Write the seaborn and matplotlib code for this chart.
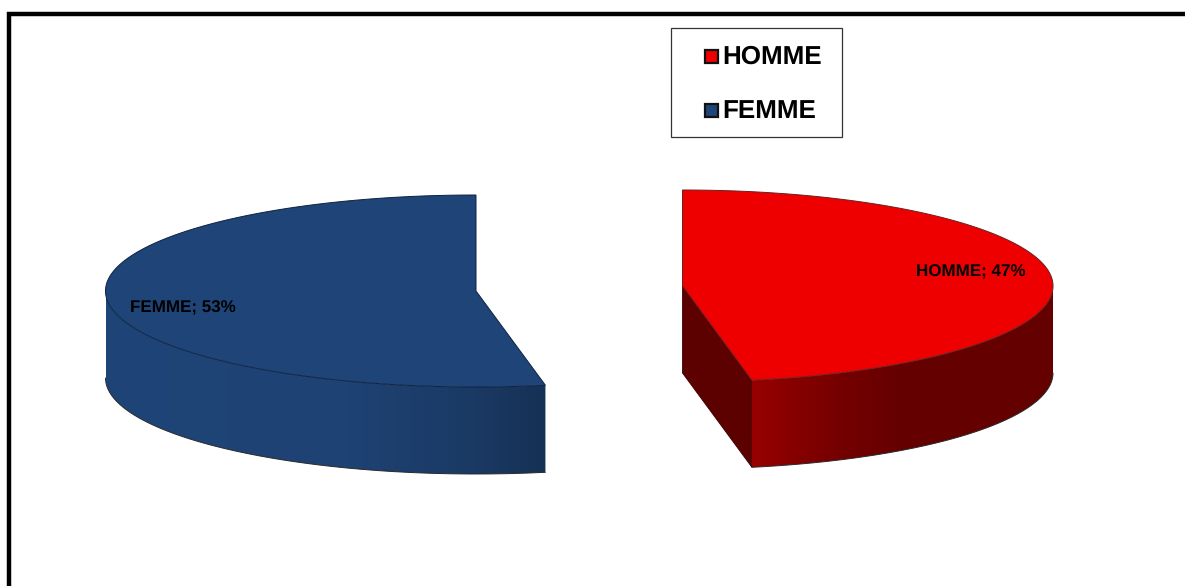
import numpy as np
import matplotlib
matplotlib.use("Agg")
import matplotlib.pyplot as plt
from matplotlib.patches import Polygon, Rectangle
from matplotlib.colors import LinearSegmentedColormap
import seaborn as sns

categories = ["HOMME", "FEMME"]
shares = [47, 53]
colors = ["#ee0000", "#1f4477"]

sns.set_theme(style="white")
plt.rcParams["font.family"] = ["Liberation Sans", "DejaVu Sans"]
plt.rcParams["text.hinting"] = "no_hinting"
plt.rcParams["text.hinting_factor"] = 1

fig = plt.figure(figsize=(11.85, 5.86), dpi=100)
ax = fig.add_axes([0, 0, 1, 1])

RX, RY, DEPTH = 370.5, 96, 87
split = 2 * np.pi * shares[0] / sum(shares)
outline = "#2a2a2a"


def rim(cx, cy, t):
    return np.column_stack([cx + RX * np.sin(t), cy - RY * np.cos(t)])


def draw_side(cx, cy, t0, t1, cmap):
    t = np.linspace(t0, t1, 240)
    top = rim(cx, cy, t)
    bottom = top + [0, DEPTH]
    shape = Polygon(np.vstack([top, bottom[::-1]]), transform=ax.transData,
                    facecolor="none", edgecolor="none")
    ax.add_patch(shape)
    x0, x1 = top[:, 0].min(), top[:, 0].max()
    ramp = np.linspace(0, 1, 400)[None, :]
    im = ax.imshow(ramp, cmap=cmap, vmin=0, vmax=1, aspect="auto", interpolation="bilinear",
                   extent=(x0, x1, bottom[:, 1].max() + 1, top[:, 1].min() - 1), zorder=2)
    im.set_clip_path(shape)
    ax.plot(bottom[:, 0], bottom[:, 1], color=outline, lw=0.7, zorder=3)


# HOMME wedge
cx, cy = 682.5, 286
tip = rim(cx, cy, np.array([split]))[0]
ax.add_patch(Polygon([[cx, cy], tip, tip + [0, DEPTH], [cx, cy + DEPTH]],
                     facecolor="#5c0000", edgecolor="#3a0000", lw=0.6, zorder=2))
red_map = LinearSegmentedColormap.from_list(
    "r", [(0, "#980000"), (0.12, "#880000"), (0.3, "#740000"), (0.5, "#650000"), (1, "#640000")])
draw_side(cx, cy, np.pi / 2, split, red_map)
t = np.linspace(0, split, 300)
ax.add_patch(Polygon(np.vstack([[cx, cy], rim(cx, cy, t)]), facecolor=colors[0],
                     edgecolor="#6a2020", lw=0.7, zorder=4))

# FEMME wedge
cx, cy = 476, 291
tip = rim(cx, cy, np.array([split]))[0]
blue_map = LinearSegmentedColormap.from_list(
    "b", [(0, "#1f4477"), (0.55, "#1e4273"), (0.8, "#1b3b67"), (1, "#163155")])
draw_side(cx, cy, split, 3 * np.pi / 2, blue_map)
t = np.linspace(split, 2 * np.pi, 300)
ax.add_patch(Polygon(np.vstack([[cx, cy], rim(cx, cy, t)]), facecolor=colors[1],
                     edgecolor="#0e2240", lw=0.7, zorder=4))

# Data labels
ax.text(970.5, 272, f"{categories[0]}; {shares[0]}%", ha="center", va="center",
        fontsize=12.6, fontweight="bold", color="black", zorder=5)
ax.text(182.5, 308, f"{categories[1]}; {shares[1]}%", ha="center", va="center",
        fontsize=12.6, fontweight="bold", color="black", zorder=5)

# Legend
ax.add_patch(Rectangle((671, 28), 171, 109, facecolor="white", edgecolor="#333333", lw=0.9, zorder=5))
for name, col, y in zip(categories, colors, [56, 110]):
    ax.add_patch(Rectangle((704.5, y - 6.5), 13, 13, facecolor=col, edgecolor="#111111", lw=1.6, zorder=6))
    ax.text(722.5, y + 1.5, name, ha="left", va="center", fontsize=18.5,
            fontweight="bold", color="black", zorder=6)

# Outer frame
ax.plot([8.5, 8.5, 1185], [586, 13.5, 13.5], color="black", lw=3.2,
        solid_joinstyle="miter", solid_capstyle="butt", zorder=7)

ax.set_xlim(0, 1185)
ax.set_ylim(586, 0)
ax.axis("off")

fig.savefig("out.png", dpi=100)
